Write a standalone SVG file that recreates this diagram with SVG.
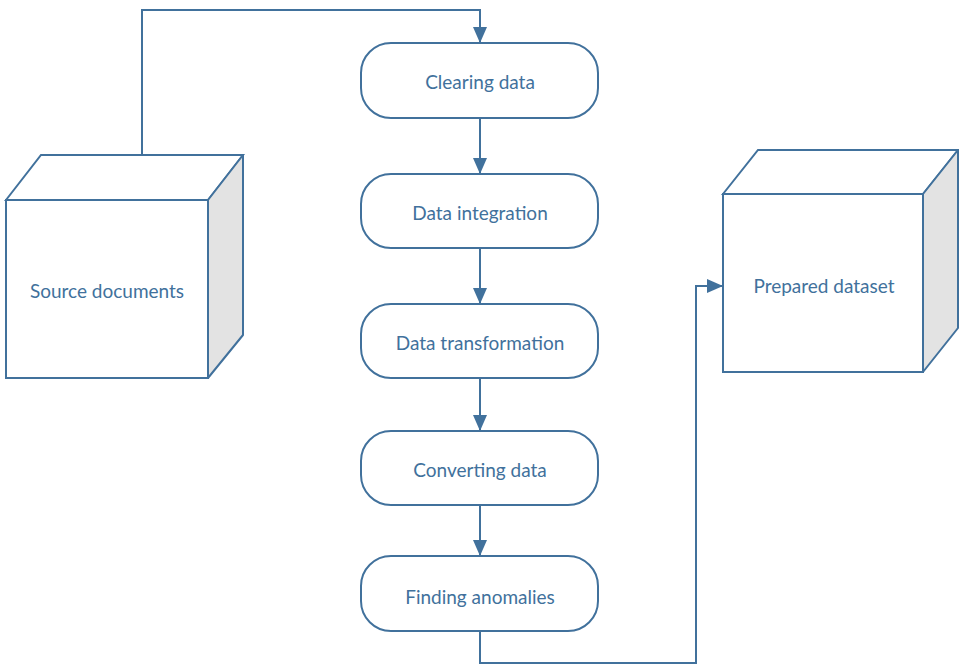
<svg xmlns="http://www.w3.org/2000/svg" width="959" height="664" viewBox="0 0 959 664">
<style>
.s{fill:none;stroke:#41719c;stroke-width:2}
.b{fill:#ffffff;stroke:#41719c;stroke-width:2}
.side{fill:#e3e3e3;stroke:#41719c;stroke-width:2;stroke-linejoin:round}
.t{font-family:Lato,"Open Sans",sans-serif;font-size:19px;fill:#41719c;text-anchor:middle;dominant-baseline:central}
</style>
<defs>
<marker id="a" markerWidth="16" markerHeight="14" refX="15" refY="7" orient="auto" markerUnits="userSpaceOnUse">
<path d="M0,0 L16,7 L0,14 Z" fill="#41719c"/>
</marker>
</defs>
<rect width="959" height="664" fill="#ffffff"/>
<g id="connectors">
<polyline class="s" points="142,155 142,10 480,10 480,42" marker-end="url(#a)"/>
<line class="s" x1="480" y1="118" x2="480" y2="173" marker-end="url(#a)"/>
<line class="s" x1="480" y1="248" x2="480" y2="303" marker-end="url(#a)"/>
<line class="s" x1="480" y1="378" x2="480" y2="430" marker-end="url(#a)"/>
<line class="s" x1="480" y1="505" x2="480" y2="555" marker-end="url(#a)"/>
<polyline class="s" points="480,631 480,663 696,663 696,286 722,286" marker-end="url(#a)"/>
</g>
<g id="source">
<polygon class="b" points="6,200 41,155 243,155 208,200"/>
<polygon class="side" points="208,200 243,155 243,335 208,378"/>
<rect class="b" x="6" y="200" width="202" height="178"/>
<text class="t" x="107" y="290">Source documents</text>
</g>
<g id="prepared">
<polygon class="b" points="723,194 758,150 958,150 923,194"/>
<polygon class="side" points="923,194 958,150 958,328 923,372"/>
<rect class="b" x="723" y="194" width="200" height="178"/>
<text class="t" x="824" y="285">Prepared dataset</text>
</g>
<g id="n1">
<rect class="b" x="361" y="43" width="237" height="75" rx="30"/>
<text class="t" x="480" y="81">Clearing data</text>
</g>
<g id="n2">
<rect class="b" x="361" y="174" width="237" height="74" rx="30"/>
<text class="t" x="480" y="212">Data integration</text>
</g>
<g id="n3">
<rect class="b" x="361" y="304" width="237" height="74" rx="30"/>
<text class="t" x="480" y="342">Data transformation</text>
</g>
<g id="n4">
<rect class="b" x="361" y="431" width="237" height="74" rx="30"/>
<text class="t" x="480" y="469">Converting data</text>
</g>
<g id="n5">
<rect class="b" x="361" y="556" width="237" height="75" rx="30"/>
<text class="t" x="480" y="596">Finding anomalies</text>
</g>
</svg>
